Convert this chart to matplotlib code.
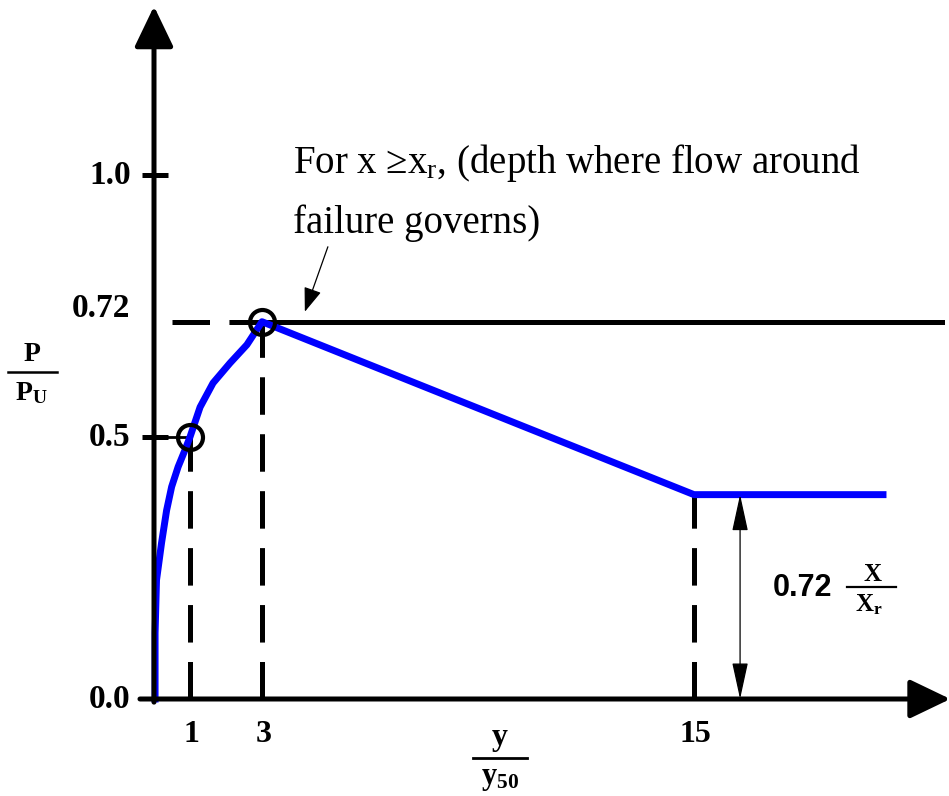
import matplotlib
matplotlib.use("Agg")
import matplotlib.pyplot as plt

plt.rcParams["font.family"] = ["Liberation Serif", "DejaVu Serif"]
plt.rcParams["mathtext.fontset"] = "custom"
plt.rcParams["mathtext.rm"] = "Liberation Serif"
plt.rcParams["mathtext.it"] = "Liberation Serif:italic"
plt.rcParams["mathtext.bf"] = "Liberation Serif:bold"
plt.rcParams["lines.scale_dashes"] = False

# p-y curve, normalised: P/Pu against y/y50
curve_x = [0.03, 0.03, 0.07, 0.21, 0.35, 0.49, 0.67, 0.86, 1.0, 1.28, 1.64, 2.11, 2.58, 3.0, 15.0, 20.25]
curve_y = [0.0, 0.126, 0.227, 0.298, 0.36, 0.405, 0.443, 0.475, 0.5, 0.557, 0.603, 0.641, 0.676, 0.72, 0.39, 0.39]

# marked points on the curve
key_x = [1, 3]
key_y = [0.5, 0.72]

# level reached for x >= xr and residual level at large y/y50
peak_level = 0.72
residual_level = 0.39
residual_start = 15

ytick_vals = [1.0, 0.72, 0.5, 0.0]
ytick_labels = ["1.0", "0.72", "0.5", "0.0"]
ytick_nudge = [0.0, 0.025, 0.0, 0.0]
xtick_vals = [1, 3, 15]
xtick_labels = ["1", "3", "15"]

DASH = (0, (27, 14))
BOLD = dict(fontweight="bold", color="black")

fig = plt.figure(figsize=(9.49, 7.96), dpi=100)
ax = fig.add_axes([0, 0, 1, 1])
ax.set_xlim(-154 / 36, 795 / 36)
ax.set_ylim(-97 / 524, 699 / 524)
ax.axis("off")

# axes with arrow heads
axis_style = dict(arrowstyle="-|>,head_length=1.25,head_width=0.6", lw=3.6,
                  color="black", mutation_scale=20, shrinkA=0, shrinkB=0)
ax.annotate("", xy=(0, 1.322), xytext=(0, -0.006), arrowprops=axis_style,
            annotation_clip=False)
ax.annotate("", xy=(22.12, 0), xytext=(-0.39, 0), arrowprops=axis_style,
            annotation_clip=False)

# y ticks at 1.0 and 0.5
for v in [1.0, 0.5]:
    ax.plot([-0.33, 0.39], [v, v], color="black", lw=3.6, solid_capstyle="butt")
ax.plot([0, key_x[0]], [key_y[0], key_y[0]], color="black", lw=2)

# dashed guides
ax.plot([0.5, key_x[1]], [peak_level, peak_level], color="black", lw=3.6, linestyle=DASH)
for x, y in zip(key_x, key_y):
    ax.plot([x, x], [0, y], color="black", lw=3.6, linestyle=DASH)
ax.plot([residual_start, residual_start], [0, residual_level], color="black",
        lw=3.6, linestyle=DASH)

# solid line for x >= xr
ax.plot([key_x[1], 21.9], [peak_level, peak_level], color="black", lw=3.6)

# the curve
ax.plot(curve_x, curve_y, color="#0000ff", lw=5, solid_joinstyle="round")
ax.plot(key_x, key_y, "o", ms=18, mfc="none", mec="black", mew=3)

# tick labels
for v, s, dy in zip(ytick_vals, ytick_labels, ytick_nudge):
    ax.text(-0.65, v + dy, s, ha="right", va="center", fontsize=24, **BOLD)
for v, s in zip(xtick_vals, xtick_labels):
    ax.text(v + 0.05, -0.068, s, ha="center", va="center", fontsize=23, **BOLD)

# axis titles as fractions
ax.text(-3.4, 0.658, "P", ha="center", va="center", fontsize=20, **BOLD)
ax.plot([-4.06, -2.69], [0.624, 0.624], color="black", lw=1.8)
ax.text(-3.4, 0.583, r"P$_\mathbf{U}$", ha="center", va="center", fontsize=20, **BOLD)

ax.text(9.6, -0.074, "y", ha="center", va="center", fontsize=23, **BOLD)
ax.plot([8.86, 10.36], [-0.113, -0.113], color="black", lw=2)
ax.text(9.6, -0.152, r"y$_\mathbf{50}$", ha="center", va="center", fontsize=22, **BOLD)

# annotation of the x >= xr line
ax.text(3.86, 1.004, "For x ≥x$_\\mathregular{r}$, (depth where flow around",
        ha="left", va="baseline", fontsize=28)
ax.text(3.86, 0.889, "failure governs)", ha="left", va="baseline", fontsize=28)
ax.annotate("", xy=(4.19, 0.739), xytext=(4.83, 0.863),
            arrowprops=dict(arrowstyle="-|>,head_length=1.5,head_width=0.55",
                            lw=0.9, color="black", mutation_scale=10,
                            shrinkA=0, shrinkB=0))

# dimension of the residual level
ax.annotate("", xy=(16.28, residual_level), xytext=(16.28, 0),
            arrowprops=dict(arrowstyle="<|-|>,head_length=2.3,head_width=0.5",
                            lw=0.9, color="black", mutation_scale=10,
                            shrinkA=0, shrinkB=0))
ax.text(17.19, 0.212, "0.72", ha="left", va="center", fontsize=22,
        family="Liberation Sans", **BOLD)
ax.text(19.95, 0.238, "X", ha="center", va="center", fontsize=18, **BOLD)
ax.plot([19.25, 20.6], [0.213, 0.213], color="black", lw=1.6)
ax.text(19.85, 0.180, r"X$_\mathbf{r}$", ha="center", va="center", fontsize=18, **BOLD)

fig.savefig("out.png", dpi=100)
